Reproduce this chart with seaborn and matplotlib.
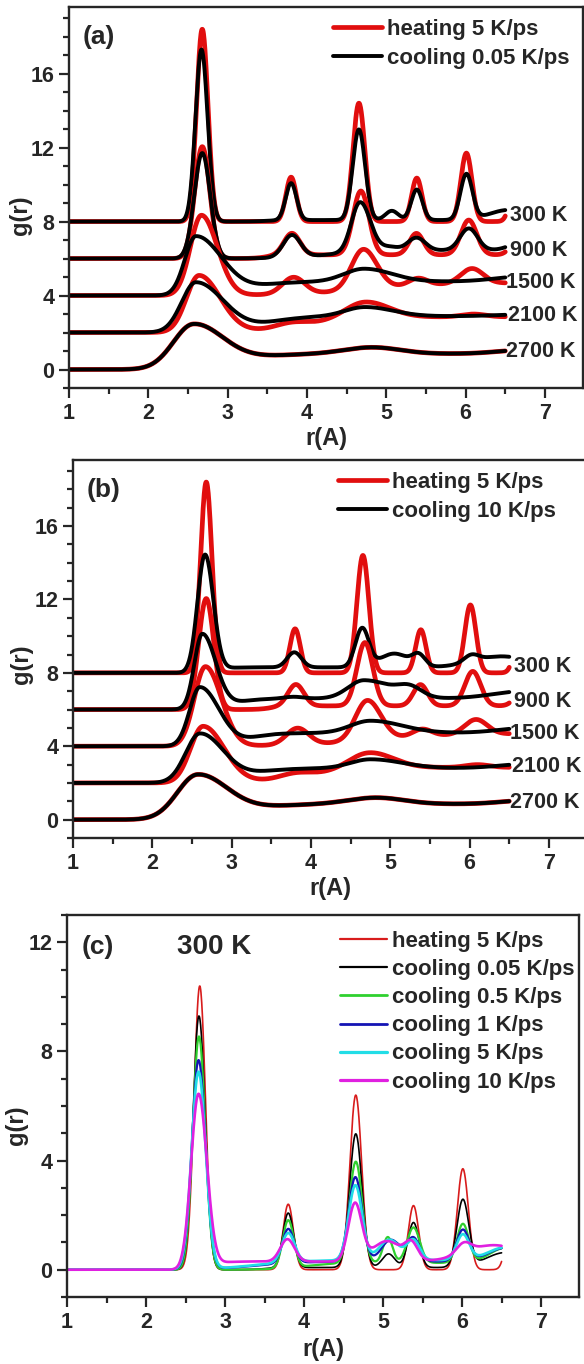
import numpy as np
import matplotlib
matplotlib.use("Agg")
import matplotlib.pyplot as plt
from matplotlib.lines import Line2D
from matplotlib.ticker import MultipleLocator
import seaborn as sns

# ---------------------------------------------------------------------------
# g(r) data.  Every curve is described by a background (level, onset radius,
# onset width) and a list of peaks (position, height, left width, right width).
# ---------------------------------------------------------------------------
R_MIN, R_MAX = 1.0, 6.5
TEMPERATURES = ["300 K", "900 K", "1500 K", "2100 K", "2700 K"]
OFFSETS = [8, 6, 4, 2, 0]

# heating 5 K/ps
heat_300_bg = (0.0, 3.0, 0.1)
heat_300_peaks = [(2.68, 10.4, .072, .072), (3.80, 2.40, .065, .065),
                  (4.655, 6.40, .075, .075), (5.385, 2.35, .065, .065),
                  (6.01, 3.70, .07, .07), (6.65, 3.0, .07, .07)]
heat_900_bg = (0.2, 3.5, 0.08)
heat_900_peaks = [(2.68, 6.05, .095, .095), (3.81, 1.17, .10, .10),
                  (4.68, 3.45, .10, .10), (5.38, 1.16, .09, .09),
                  (6.04, 1.88, .10, .10), (6.70, 1.2, .10, .10)]
heat_1500_bg = (0.7, 4.8, 0.5)
heat_1500_peaks = [(2.67, 4.33, .14, .20), (3.83, 0.9, .14, .14),
                   (4.71, 2.18, .15, .17), (5.40, 0.4, .12, .12),
                   (6.08, 0.81, .14, .14)]
heat_2100_bg = (0.85, 4.0, 0.35)
heat_2100_peaks = [(2.64, 3.07, .16, .265), (3.80, 0.25, .20, .20),
                   (4.73, 0.89, .25, .30), (6.10, 0.15, .15, .15)]

# liquid at 2700 K (heating and cooling coincide)
liquid_2700_bg = (0.85, 3.2, 0.25)
liquid_2700_peaks = [(2.57, 2.4, .255, .387), (4.82, 0.35, .35, .35),
                     (6.75, 0.2, .35, .35)]

# cooling 0.05 K/ps
cool005_300_bg = (0.08, 3.5, 0.1)
cool005_300_peaks = [(2.67, 9.3, .075, .078), (3.80, 2.0, .068, .068),
                     (4.655, 4.9, .078, .078), (5.07, 0.5, .08, .08),
                     (5.385, 1.65, .07, .07), (6.01, 2.45, .075, .075),
                     (6.55, 0.55, .25, .25)]
cool005_900_bg = (0.45, 4.3, 0.3)
cool005_900_peaks = [(2.68, 5.7, .10, .10), (3.81, 1.2, .11, .11),
                     (4.67, 2.7, .11, .13), (5.05, 0.2, .10, .10),
                     (5.38, 0.69, .11, .11), (6.04, 1.18, .11, .11),
                     (6.70, 0.4, .15, .15)]
cool005_1500_bg = (0.75, 3.3, 0.2)
cool005_1500_peaks = [(2.60, 3.19, .14, .33), (4.72, 0.7, .25, .35),
                      (6.80, 0.3, .40, .40)]
cool005_2100_bg = (0.88, 3.45, 0.22)
cool005_2100_peaks = [(2.60, 2.7, .18, .35), (4.73, 0.5, .25, .35),
                      (6.80, 0.1, .40, .40)]

# cooling 10 K/ps
cool10_300_bg = (0.3, 2.85, 0.08)
cool10_300_peaks = [(2.665, 6.42, .095, .105), (3.79, 0.82, .09, .09),
                    (4.645, 2.1, .085, .085), (5.05, 0.75, .18, .18),
                    (5.36, 0.6, .08, .08), (6.02, 0.37, .09, .09),
                    (6.40, 0.6, .35, .35)]
cool10_900_bg = (0.6, 3.0, 0.15)
cool10_900_peaks = [(2.63, 4.08, .10, .169), (3.78, 0.1, .12, .12),
                    (4.67, 1.0, .20, .35), (5.25, 0.5, .15, .15),
                    (6.70, 0.4, .40, .40)]
cool10_1500_bg = (0.72, 3.2, 0.15)
cool10_1500_peaks = [(2.60, 3.21, .13, .244), (4.75, 0.67, .25, .40),
                     (6.80, 0.3, .40, .40)]
cool10_2100_bg = (0.8, 3.2, 0.2)
cool10_2100_peaks = [(2.60, 2.66, .18, .30), (4.75, 0.49, .25, .40),
                     (6.80, 0.25, .40, .40)]

# 300 K after cooling at intermediate rates
cool05_300_bg = (0.25, 4.0, 0.2)
cool05_300_peaks = [(2.67, 8.55, .078, .08), (3.80, 1.75, .07, .07),
                    (4.655, 3.72, .08, .08), (5.06, 0.95, .06, .06),
                    (5.385, 1.3, .08, .08), (6.01, 1.42, .075, .075),
                    (6.55, 0.55, .2, .2)]
cool1_300_bg = (0.3, 3.4, 0.3)
cool1_300_peaks = [(2.665, 7.66, .084, .088), (3.80, 1.26, .075, .075),
                   (4.65, 3.1, .085, .085), (5.10, 0.8, .12, .12),
                   (5.385, 0.85, .08, .08), (6.01, 1.15, .08, .08),
                   (6.55, 0.5, .22, .22)]
cool5_300_bg = (0.35, 3.4, 0.3)
cool5_300_peaks = [(2.665, 7.23, .088, .09), (3.80, 1.07, .08, .08),
                   (4.65, 2.75, .085, .085), (5.08, 0.75, .13, .13),
                   (5.385, 0.72, .08, .08), (6.01, 0.93, .08, .08),
                   (6.55, 0.47, .22, .22)]

LEGEND_AB = ["heating 5 K/ps", "cooling 0.05 K/ps", "cooling 10 K/ps"]
LEGEND_C = ["heating 5 K/ps", "cooling 0.05 K/ps", "cooling 0.5 K/ps",
            "cooling 1 K/ps", "cooling 5 K/ps", "cooling 10 K/ps"]

# label heights beside the curve ends
TEMP_LABEL_Y = [8.33, 6.43, 4.72, 2.9, 0.95]
TEMP_LABEL_X = [6.56, 6.56, 6.51, 6.53, 6.51]


def g_of_r(r, bg, peaks):
    level, r0, w = bg
    g = level / (1.0 + np.exp(-(r - r0) / w))
    for c, h, sl, sr in peaks:
        s = np.where(r < c, sl, sr)
        g = g + h * np.exp(-0.5 * ((r - c) / s) ** 2)
    return g


r = np.linspace(R_MIN, R_MAX, 1201)

heating = [(heat_300_bg, heat_300_peaks), (heat_900_bg, heat_900_peaks),
           (heat_1500_bg, heat_1500_peaks), (heat_2100_bg, heat_2100_peaks),
           (liquid_2700_bg, liquid_2700_peaks)]
cooling_slow = [(cool005_300_bg, cool005_300_peaks),
                (cool005_900_bg, cool005_900_peaks),
                (cool005_1500_bg, cool005_1500_peaks),
                (cool005_2100_bg, cool005_2100_peaks),
                (liquid_2700_bg, liquid_2700_peaks)]
cooling_fast = [(cool10_300_bg, cool10_300_peaks),
                (cool10_900_bg, cool10_900_peaks),
                (cool10_1500_bg, cool10_1500_peaks),
                (cool10_2100_bg, cool10_2100_peaks),
                (liquid_2700_bg, liquid_2700_peaks)]
rates_300 = [(heat_300_bg, heat_300_peaks), (cool005_300_bg, cool005_300_peaks),
             (cool05_300_bg, cool05_300_peaks), (cool1_300_bg, cool1_300_peaks),
             (cool5_300_bg, cool5_300_peaks), (cool10_300_bg, cool10_300_peaks)]

RED = "#e10e0e"
BLACK = "#000000"
C_COLORS = ["#d81c1c", "#000000", "#2fd02f", "#1414b4", "#22dde6", "#e020e0"]
C_WIDTHS = [1.2, 1.2, 1.6, 1.6, 1.9, 1.9]
RED_LW, BLACK_LW = 3.4, 2.8

sns.set_style("ticks")
plt.rcParams["font.family"] = ["Liberation Sans", "DejaVu Sans"]
plt.rcParams["font.weight"] = "bold"
plt.rcParams["axes.labelweight"] = "bold"

TICK_FS, LEG_FS, TEMP_FS, LABEL_FS, LETTER_FS = 15.5, 16, 15.5, 17, 19

W, H = 584, 1364
fig = plt.figure(figsize=(W / 100, H / 100), dpi=100)


def frame(ax, ymin, ymax, ylabel_xy, xlabel_y):
    ax.set_xlim(1, 7.48)
    ax.set_ylim(ymin, ymax)
    ax.xaxis.set_major_locator(MultipleLocator(1))
    ax.xaxis.set_minor_locator(MultipleLocator(0.5))
    ax.yaxis.set_major_locator(MultipleLocator(4))
    ax.yaxis.set_minor_locator(MultipleLocator(1))
    ax.tick_params(which="both", direction="out", width=1.6, labelsize=TICK_FS,
                   top=False, right=False)
    ax.tick_params(which="major", length=7, pad=3.5)
    ax.tick_params(which="minor", length=4)
    for sp in ax.spines.values():
        sp.set_visible(True)
        sp.set_linewidth(1.7)
    ax.set_xlabel("r(A)", fontsize=LABEL_FS, fontweight="bold")
    ax.set_ylabel("g(r)", fontsize=LABEL_FS, fontweight="bold")
    ax.xaxis.set_label_coords(0.5, xlabel_y)
    ax.yaxis.set_label_coords(ylabel_xy[0], ylabel_xy[1])
    for t in ax.get_xticklabels() + ax.get_yticklabels():
        t.set_fontweight("bold")


def temp_panel(rect, slow_or_fast, legend_labels, letter, legend_anchor):
    ax = fig.add_axes(rect)
    for i, off in enumerate(OFFSETS):
        hb, hp = heating[i]
        cb, cp = slow_or_fast[i]
        sns.lineplot(x=r, y=g_of_r(r, hb, hp) + off, ax=ax, color=RED,
                     lw=RED_LW, estimator=None, sort=False)
        sns.lineplot(x=r, y=g_of_r(r, cb, cp) + off, ax=ax, color=BLACK,
                     lw=BLACK_LW, estimator=None, sort=False)
        ax.text(TEMP_LABEL_X[i], TEMP_LABEL_Y[i], TEMPERATURES[i], fontsize=TEMP_FS,
                fontweight="bold", ha="left", va="center")
    handles = [Line2D([], [], color=RED, lw=RED_LW),
               Line2D([], [], color=BLACK, lw=BLACK_LW)]
    ax.legend(handles, legend_labels, loc="upper left", bbox_to_anchor=legend_anchor,
              frameon=False, handlelength=2.2, handletextpad=0.23,
              labelspacing=0.36, borderpad=0, borderaxespad=0,
              prop={"weight": "bold", "size": LEG_FS})
    ax.text(0.027, 0.921, letter, transform=ax.transAxes, fontsize=LETTER_FS,
            fontweight="bold", ha="left", va="center")
    return ax


ax_a = temp_panel([69 / W, 1 - 388 / H, 514 / W, 381 / H], cooling_slow,
                  LEGEND_AB[:2], "(a)", (0.514, 0.968))
frame(ax_a, -1, 19.6, (-0.072, 0.454), -0.102)

ax_b = temp_panel([73 / W, 1 - 838 / H, 514 / W, 378 / H], cooling_fast,
                  [LEGEND_AB[0], LEGEND_AB[2]], "(b)", (0.516, 0.968))
frame(ax_b, -1, 19.6, (-0.078, 0.46), -0.103)

ax_c = fig.add_axes([67 / W, 1 - 1297 / H, 512 / W, 382 / H])
for (bg, pk), col, lw in zip(rates_300, C_COLORS, C_WIDTHS):
    sns.lineplot(x=r, y=g_of_r(r, bg, pk), ax=ax_c, color=col, lw=lw,
                 estimator=None, sort=False)
handles_c = [Line2D([], [], color=c, lw=lw + 0.4) for c, lw in zip(C_COLORS, C_WIDTHS)]
ax_c.legend(handles_c, LEGEND_C, loc="upper left", bbox_to_anchor=(0.533, 0.958),
            frameon=False, handlelength=2.1, handletextpad=0.23, labelspacing=0.32,
            borderpad=0, borderaxespad=0, prop={"weight": "bold", "size": LEG_FS})
ax_c.text(0.029, 0.916, "(c)", transform=ax_c.transAxes, fontsize=LETTER_FS,
          fontweight="bold", ha="left", va="center")
ax_c.text(0.215, 0.916, "300 K", transform=ax_c.transAxes, fontsize=20,
          fontweight="bold", ha="left", va="center")
frame(ax_c, -1, 13, (-0.076, 0.45), -0.107)

fig.savefig("out.png", dpi=100)
